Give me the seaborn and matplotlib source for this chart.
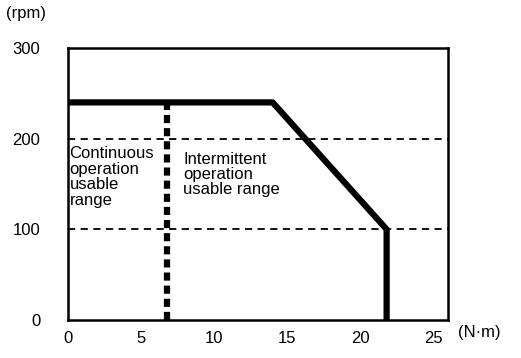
import matplotlib
matplotlib.use("Agg")
import matplotlib.pyplot as plt
import seaborn as sns
import pandas as pd

# speed-torque curve (Intermittent operation boundary)
torque = [0, 14, 21.8, 21.8]
speed = [240, 240, 100, 0]

# continuous operation limit
cont_torque = [6.8, 6.8]
cont_speed = [0, 240]

xticks = [0, 5, 10, 15, 20, 25]
yticks = [0, 100, 200, 300]
grid_levels = [100, 200]

sns.set_style("white")
plt.rcParams['font.family'] = ['Liberation Sans', 'DejaVu Sans']
plt.rcParams['text.color'] = 'black'
plt.rcParams['xtick.color'] = 'black'
plt.rcParams['ytick.color'] = 'black'

fig = plt.figure(figsize=(5.21, 3.58), dpi=100)
ax = fig.add_axes([68 / 521, 38 / 358, 380 / 521, 272 / 358])

df = pd.DataFrame({'torque': torque, 'speed': speed})
sns.lineplot(data=df, x='torque', y='speed', sort=False, estimator=None,
             color='black', linewidth=4.5, ax=ax)
ax.plot(cont_torque, cont_speed, color='black', linewidth=4.5,
        linestyle=(0, (1.3, 0.8)), solid_capstyle='butt', dash_capstyle='butt')

for lvl in grid_levels:
    ax.axhline(lvl, color='black', linewidth=1.3, linestyle=(0, (4, 3)), zorder=0)

ax.set_xlim(0, 26)
ax.set_ylim(0, 300)
ax.set_xticks(xticks)
ax.set_yticks(yticks)
ax.tick_params(axis='x', direction='in', length=7, width=1.5, labelsize=12, pad=8,
               colors='black')
ax.tick_params(axis='y', length=0, labelsize=12, pad=20, colors='black')
for s in ax.spines.values():
    s.set_color('black')
    s.set_linewidth(1.8)
ax.set_xlabel('')
ax.set_ylabel('')

ax.text(0.1, 192, 'Continuous\noperation\nusable\nrange', fontsize=12,
        va='top', ha='left', linespacing=1.05, color='black')
ax.text(7.9, 185, 'Intermittent\noperation\nusable range', fontsize=12,
        va='top', ha='left', linespacing=1.0, color='black')

fig.text(6 / 521, 1 - 6 / 358, '(rpm)', fontsize=12, va='top', ha='left')
fig.text(458 / 521, 1 - 333 / 358, '(N·m)', fontsize=12, va='center', ha='left')

fig.savefig('out.png', dpi=100)
